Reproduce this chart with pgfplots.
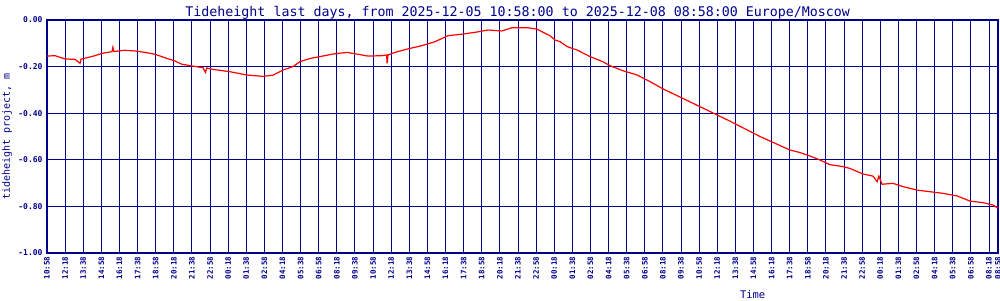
\documentclass[border=0pt]{standalone}
\usepackage{fontspec}
\setmainfont{DejaVu Sans Mono}
\usepackage{pgfplots}
\pgfplotsset{compat=1.18}
\definecolor{navy}{RGB}{0,0,140}
\pgfplotstableread{
t v
0 -0.155
35 -0.153
79 -0.167
124 -0.169
146 -0.186
150 -0.168
177 -0.162
212 -0.153
243 -0.143
287 -0.136
291 -0.117
295 -0.135
344 -0.130
389 -0.133
433 -0.139
477 -0.147
521 -0.162
565 -0.176
596 -0.190
640 -0.197
689 -0.205
700 -0.225
705 -0.206
733 -0.212
808 -0.222
883 -0.236
954 -0.242
998 -0.237
1042 -0.215
1086 -0.200
1117 -0.179
1162 -0.165
1206 -0.157
1263 -0.146
1325 -0.139
1373 -0.147
1418 -0.155
1479 -0.153
1500 -0.150
1502 -0.186
1506 -0.150
1537 -0.139
1594 -0.124
1656 -0.110
1714 -0.093
1771 -0.067
1833 -0.061
1890 -0.053
1948 -0.043
2009 -0.047
2054 -0.033
2120 -0.033
2164 -0.039
2191 -0.053
2221 -0.067
2244 -0.086
2266 -0.093
2297 -0.114
2341 -0.129
2398 -0.157
2455 -0.179
2486 -0.196
2544 -0.218
2606 -0.236
2664 -0.265
2721 -0.296
2747 -0.308
2884 -0.372
3016 -0.434
3149 -0.500
3281 -0.558
3326 -0.569
3370 -0.584
3414 -0.601
3458 -0.621
3515 -0.629
3546 -0.637
3604 -0.661
3648 -0.670
3666 -0.694
3674 -0.670
3688 -0.705
3736 -0.701
3780 -0.715
3842 -0.730
3900 -0.737
3957 -0.744
4019 -0.755
4076 -0.777
4134 -0.784
4178 -0.794
4200 -0.808
}\tide
\begin{document}
\begin{tikzpicture}
\begin{axis}[
  scale only axis, width=951pt, height=233pt,
  xmin=0, xmax=4200, ymin=-1, ymax=0,
  axis line style={navy, line width=1.3pt},
  major tick length=0pt,
  grid=major, major grid style={navy, line width=0.9pt},
  ytick={-1,-0.8,-0.6,-0.4,-0.2,0},
  yticklabels={-1.00,-0.80,-0.60,-0.40,-0.20,0.00},
  yticklabel style={font=\fontsize{8}{8}\selectfont\bfseries, text=navy, xshift=-1pt},
  xtick={0,80,...,4160,4200},
  xticklabels={10:58,12:18,13:38,14:58,16:18,17:38,18:58,20:18,21:38,22:58,
    00:18,01:38,02:58,04:18,05:38,06:58,08:18,09:38,10:58,12:18,13:38,14:58,16:18,17:38,18:58,20:18,21:38,22:58,
    00:18,01:38,02:58,04:18,05:38,06:58,08:18,09:38,10:58,12:18,13:38,14:58,16:18,17:38,18:58,20:18,21:38,22:58,
    00:18,01:38,02:58,04:18,05:38,06:58,08:18,08:58},
  xticklabel style={font=\fontsize{7.5}{7.5}\selectfont\bfseries, text=navy, rotate=90, anchor=east},
  xlabel={Time},
  xlabel style={font=\fontsize{10.5}{10.5}\selectfont, text=navy, at={(axis description cs:0.742,-0.18)}, anchor=center},
  ylabel={tideheight project, m},
  ylabel style={font=\fontsize{10}{10}\selectfont, text=navy, at={(axis description cs:-0.042,0.5)}, anchor=center},
  title={Tideheight last days, from 2025-12-05 10:58:00 to 2025-12-08 08:58:00 Europe/Moscow},
  title style={font=\fontsize{13.3}{13.3}\selectfont, text=navy, at={(axis description cs:0.495,1)}, anchor=base, yshift=-3pt},
  clip=false,
]
\addplot[red, line width=1.2pt] table[x=t, y=v] {\tide};
\coordinate (sw) at (rel axis cs:0,0);
\end{axis}
\pgfresetboundingbox
\path[use as bounding box] ([shift={(-47pt,-47pt)}]sw) rectangle ([shift={(953pt,253pt)}]sw);
\end{tikzpicture}
\end{document}
